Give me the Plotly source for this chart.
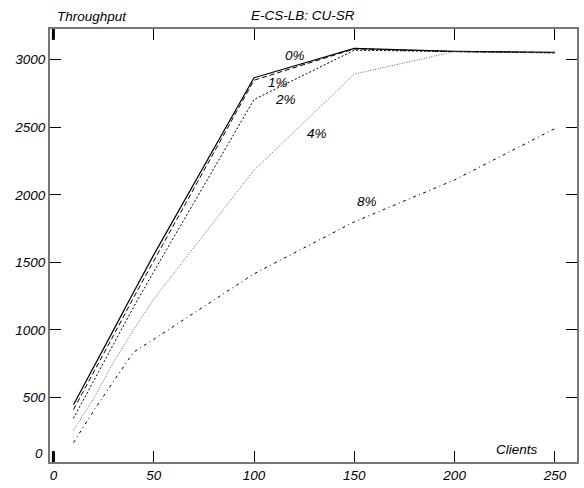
import plotly.graph_objects as go

clients = [10, 20, 30, 40, 50, 100, 150, 200, 250]
s0 = [446, 720, 1000, 1280, 1555, 2866, 3083, 3062, 3055]
s1 = [410, 680, 960, 1240, 1510, 2848, 3080, 3060, 3052]
s2 = [345, 620, 900, 1170, 1430, 2705, 3070, 3058, 3050]
s4 = [255, 490, 760, 1000, 1228, 2182, 2893, 3060, 3050]
s8 = [165, 400, 620, 835, 930, 1415, 1800, 2110, 2490]

labels = ["0%", "1%", "2%", "4%", "8%"]
label_x = [120.3, 112.0, 115.8, 131.3, 156.1]
label_y = [3031, 2829, 2707, 2450, 1951]

x_ticks = [0, 50, 100, 150, 200, 250]
y_ticks = [500, 1000, 1500, 2000, 2500, 3000]

FONT = "Liberation Sans"
fsize = 13.5

styles = [
    dict(color="black", width=1.2, dash="solid"),
    dict(color="black", width=1.0, dash="5px,3px"),
    dict(color="black", width=1.0, dash="2px,2px"),
    dict(color="#555555", width=0.9, dash="1px,1.5px"),
    dict(color="black", width=1.0, dash="3px,3.5px,1px,3.5px"),
]

fig = go.Figure()
for ys, st, nm in zip([s0, s1, s2, s4, s8], styles, labels):
    fig.add_trace(go.Scatter(x=clients, y=ys, mode="lines", line=st, name=nm,
                             showlegend=False, hoverinfo="skip"))

for t, lx, ly in zip(labels, label_x, label_y):
    fig.add_annotation(x=lx, y=ly, xref="x", yref="y", text=t, showarrow=False,
                       font=dict(family=FONT, size=fsize, color="black", style="italic"))

fig.add_annotation(x=0.480, y=1.032, xref="paper", yref="paper", text="E-CS-LB: CU-SR",
                   showarrow=False, xanchor="center", yanchor="middle",
                   font=dict(family=FONT, size=fsize, color="black", style="italic"))
fig.add_annotation(x=0.0095, y=1.030, xref="paper", yref="paper", text="Throughput",
                   showarrow=False, xanchor="left", yanchor="middle",
                   font=dict(family=FONT, size=fsize, color="black", style="italic"))
fig.add_annotation(x=0.887, y=0.03, xref="paper", yref="paper", text="Clients",
                   showarrow=False, xanchor="center", yanchor="middle",
                   font=dict(family=FONT, size=fsize, color="black", style="italic"))
fig.add_annotation(x=-0.0095, y=0.0206, xref="paper", yref="paper", text="0",
                   showarrow=False, xanchor="right", yanchor="middle",
                   font=dict(family=FONT, size=fsize, color="black", style="italic"))

# thick tick stubs at x = 0
for y0, y1 in [(0, 0.025), (0.975, 1.0)]:
    fig.add_shape(type="line", xref="x", yref="paper", x0=0, x1=0, y0=y0, y1=y1,
                  line=dict(color="black", width=3))

axis_common = dict(
    showgrid=False, zeroline=False, showline=True, linecolor="#777777", linewidth=2,
    ticks="inside", ticklen=11, tickcolor="black", tickwidth=1, mirror="allticks",
    tickfont=dict(family=FONT, size=fsize, color="black", style="italic"),
)

fig.update_xaxes(range=[-1.7, 261], tickvals=x_ticks, **axis_common)
fig.update_yaxes(range=[22, 3227], tickvals=y_ticks, **axis_common)

fig.update_layout(
    width=584, height=488,
    margin=dict(l=50, r=5, t=29, b=22),
    paper_bgcolor="white", plot_bgcolor="white",
)

fig.write_html("out.html")
